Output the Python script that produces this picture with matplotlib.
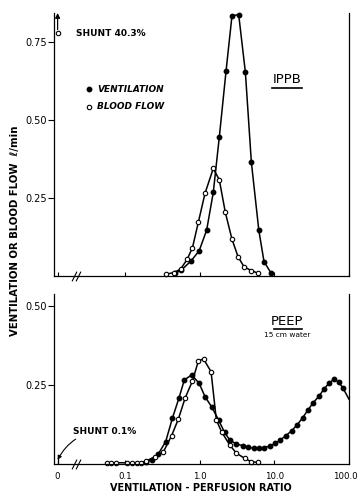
import numpy as np
import matplotlib.pyplot as plt
from matplotlib.transforms import ScaledTranslation

plt.rcParams.update({
    "font.family": "DejaVu Sans", "font.size": 7,
    "axes.linewidth": 0.9,
})

# position of the "0" (shunt) compartment on the log V/Q axis
SHUNT_X = 0.0123
XTICKS = [SHUNT_X, 0.1, 1.0, 10.0, 100.0]
XTICKLABELS = ["0", "0.1", "1.0", "10.0", "100.0"]

# --- IPPB (top panel) ---
ippb_vent_vq = [0.457, 0.562, 0.759, 0.977, 1.23, 1.51, 1.82, 2.24, 2.69,
                3.31, 4.07, 4.90, 6.17, 7.24, 8.91]
ippb_vent = [0.008, 0.019, 0.048, 0.081, 0.147, 0.268, 0.446, 0.657, 0.834,
             0.838, 0.653, 0.364, 0.146, 0.046, 0.011]
ippb_flow_vq = [0.355, 0.447, 0.550, 0.676, 0.794, 0.955, 1.17, 1.51, 1.82,
                2.19, 2.69, 3.24, 3.89, 4.90, 6.03]
ippb_flow = [0.006, 0.011, 0.022, 0.054, 0.091, 0.174, 0.265, 0.345, 0.308,
             0.204, 0.118, 0.062, 0.030, 0.017, 0.009]
ippb_shunt = 0.78   # off scale (40.3 %), drawn with an arrow

# --- PEEP 15 cm water (bottom panel) ---
peep_vent_vq = [0.186, 0.224, 0.275, 0.347, 0.427, 0.525, 0.617, 0.776, 0.977,
                1.17, 1.45, 1.78, 2.14, 2.51, 3.09, 3.80, 4.47, 5.25, 6.17,
                7.24, 8.71, 10.2, 12.0, 14.1, 17.0, 20.0, 24.0, 28.2, 33.1,
                39.8, 45.7, 53.7, 63.1, 72.4, 83.2, 100.0]
peep_vent = [0.006, 0.013, 0.031, 0.071, 0.145, 0.210, 0.266, 0.282, 0.255,
             0.213, 0.179, 0.139, 0.100, 0.076, 0.063, 0.058, 0.053, 0.050,
             0.050, 0.052, 0.057, 0.065, 0.076, 0.089, 0.105, 0.123, 0.147,
             0.171, 0.194, 0.215, 0.236, 0.255, 0.269, 0.260, 0.240, 0.205]
peep_flow_vq = [0.056, 0.065, 0.074, 0.105, 0.123, 0.141, 0.162, 0.191, 0.251,
                0.324, 0.417, 0.513, 0.631, 0.794, 0.955, 1.12, 1.41, 1.66,
                1.95, 2.51, 3.09, 3.98, 4.90, 6.03]
peep_flow = [0.004, 0.004, 0.004, 0.004, 0.004, 0.004, 0.004, 0.010, 0.023,
             0.039, 0.090, 0.142, 0.208, 0.263, 0.327, 0.332, 0.292, 0.139,
             0.102, 0.060, 0.034, 0.018, 0.007, 0.005]
peep_shunt = 0.008


def style_axes(ax, ytop, yticks):
    ax.set_xscale("log")
    ax.set_xlim(0.011, 100.0)
    ax.set_ylim(0, ytop)
    ax.spines["top"].set_visible(False)
    ax.set_yticks(yticks)
    ax.set_yticklabels([f"{v:.2f}" for v in yticks])
    ax.minorticks_off()
    ax.set_xticks(XTICKS)
    ax.tick_params(axis="y", direction="out", length=4, width=0.8, pad=1,
                   labelsize=7)
    ax.tick_params(axis="x", direction="in", length=3, width=0.8, pad=6,
                   labelsize=6.2)
    # axis break "//"
    ax.plot([0.0205, 0.0234], [0, 0], ls="none", marker=[(-1, -2), (1, 2)],
            ms=7, mew=0.8, color="k", clip_on=False,
            transform=ax.get_xaxis_transform())


def curves(ax, vq_v, v, vq_f, f, last_marker=True):
    n = len(vq_v) if last_marker else len(vq_v) - 1
    ax.plot(vq_v, v, color="k", lw=1.1, marker="o", ms=3.2, mfc="k",
            mec="k", markevery=list(range(n)), clip_on=False)
    ax.plot(vq_f, f, color="k", lw=1.1, marker="o", ms=3.2, mfc="white",
            mec="k", mew=0.8, clip_on=False)


fig = plt.figure(figsize=(3.6, 4.97), dpi=100)
ax1 = fig.add_axes([0.150, 0.4447, 0.8194, 0.5291])
ax2 = fig.add_axes([0.150, 0.0664, 0.8194, 0.3421])

# top: IPPB
style_axes(ax1, 0.843, [0.25, 0.50, 0.75])
ax1.set_xticklabels([])
curves(ax1, ippb_vent_vq, ippb_vent, ippb_flow_vq, ippb_flow)
ax1.plot([SHUNT_X], [ippb_shunt], "o", ms=3.2, mfc="white", mec="k", mew=0.8)
ax1.annotate("", xy=(SHUNT_X, 0.843), xytext=(SHUNT_X, ippb_shunt + 0.01),
             arrowprops=dict(arrowstyle="-|>", lw=0.9, color="k",
                             mutation_scale=7, shrinkA=0, shrinkB=0),
             annotation_clip=False)
ax1.text(0.0218, 0.776, "SHUNT 40.3%", fontsize=6.5, fontweight="bold",
         va="center", ha="left")
ax1.plot([0.0324], [0.599], "o", ms=3.2, mfc="k", mec="k")
ax1.text(0.0414, 0.599, "VENTILATION", fontsize=6.5, fontstyle="italic",
         fontweight="bold", va="center")
ax1.plot([0.0324], [0.542], "o", ms=3.2, mfc="white", mec="k", mew=0.8)
ax1.text(0.0414, 0.542, "BLOOD FLOW", fontsize=6.5, fontstyle="italic",
         fontweight="bold", va="center")
ax1.text(14.7, 0.631, "IPPB", fontsize=9.5, ha="center", va="center")
ax1.plot([0.739, 0.841], [0.716, 0.716], color="k", lw=1.2,
         transform=ax1.transAxes)

# bottom: PEEP
style_axes(ax2, 0.538, [0.25, 0.50])
ax2.set_xticklabels(XTICKLABELS)
last = ax2.get_xticklabels()[-1]
last.set_transform(last.get_transform()
                   + ScaledTranslation(-2.5 / 72, 0, fig.dpi_scale_trans))
curves(ax2, peep_vent_vq, peep_vent, peep_flow_vq, peep_flow,
       last_marker=False)
ax2.plot([SHUNT_X], [peep_shunt], marker="|", ms=4, mew=0.9, color="k")
ax2.annotate("SHUNT 0.1%", xy=(SHUNT_X, 0.013), xytext=(0.0197, 0.104),
             fontsize=6.5, fontweight="bold", va="center", ha="left",
             arrowprops=dict(arrowstyle="-|>", lw=0.8, color="k",
                             mutation_scale=6, shrinkA=1, shrinkB=0,
                             connectionstyle="arc3,rad=0.3"))
ax2.text(14.9, 0.452, "PEEP", fontsize=9.5, ha="center", va="center")
ax2.plot([0.746, 0.841], [0.794, 0.794], color="k", lw=1.2,
         transform=ax2.transAxes)
ax2.text(14.9, 0.409, "15 cm water", fontsize=5.3, ha="center", va="center")

fig.text(0.558, 0.018, "VENTILATION - PERFUSION RATIO", fontsize=7,
         fontweight="bold", ha="center", va="center")
fig.text(0.042, 0.535, "VENTILATION OR BLOOD FLOW  \u2113/min", fontsize=7.3,
         fontweight="bold", ha="center", va="center", rotation=90)

fig.savefig("out.png", dpi=100)
